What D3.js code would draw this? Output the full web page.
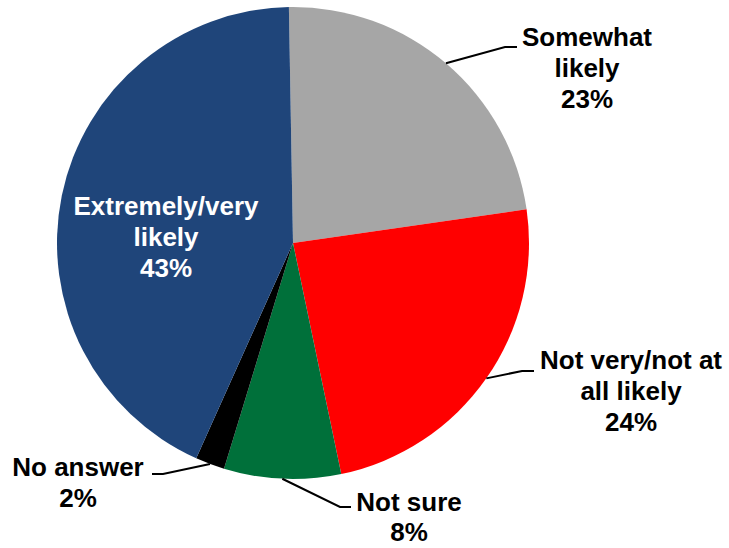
<!DOCTYPE html>
<html>
<head>
<meta charset="utf-8">
<script src="https://cdn.jsdelivr.net/npm/d3@7"></script>
<style>
  html, body { margin: 0; padding: 0; background: #fff; }
  svg { display: block; }
  text { font-family: "Liberation Sans", Arial, sans-serif; font-weight: bold; }
</style>
</head>
<body>
<svg id="chart" width="729" height="548"></svg>
<script>
// ---- data ----
const categories = ["Somewhat likely", "Not very/not at all likely", "Not sure", "No answer", "Extremely/very likely"];
const values = [23, 24, 8, 2, 43];
const labelLines = [["Somewhat", "likely"], ["Not very/not at", "all likely"], ["Not sure"], ["No answer"], ["Extremely/very", "likely"]];
const colors = ["#A6A6A6", "#FF0000", "#00703A", "#000000", "#1F457A"];

// ---- layout ----
const W = 729, H = 548;
const cx = 293, cy = 243, R = 236;
const startDeg = -1;
const fontSize = 26, lineH = 31;
// label anchor (x centre, first baseline) and leader elbow points [elbow, end]
const labelLayout = [
  { x: 587, y: 46, lh: 31, fill: "#000", leader: [[505, 47], [517, 47]] },
  { x: 631, y: 369, lh: 31, fill: "#000", leader: [[522, 371], [534, 371]] },
  { x: 409, y: 511, lh: 30, fill: "#000", leader: [[340, 507], [351, 507]] },
  { x: 78, y: 476, lh: 31, fill: "#000", leader: [[163, 474], [152, 474]] },
  { x: 166, y: 215, lh: 31, fill: "#fff", leader: null }
];

const svg = d3.select("#chart");
const g = svg.append("g").attr("transform", `translate(${cx},${cy})`);

const data = categories.map((c, i) => ({ category: c, value: values[i], lines: labelLines[i], color: colors[i], layout: labelLayout[i] }));

const pie = d3.pie()
  .value(d => d.value)
  .sort(null)
  .startAngle(startDeg * Math.PI / 180)
  .endAngle(startDeg * Math.PI / 180 + 2 * Math.PI);

const arc = d3.arc().innerRadius(0).outerRadius(R);
const arcs = pie(data);

g.selectAll("path.slice")
  .data(arcs)
  .join("path")
  .attr("class", "slice")
  .attr("d", arc)
  .attr("fill", d => d.data.color);

// leader lines
arcs.forEach(a => {
  const L = a.data.layout;
  if (!L.leader) return;
  const mid = (a.startAngle + a.endAngle) / 2;
  const sx = cx + R * Math.sin(mid);
  const sy = cy - R * Math.cos(mid);
  const pts = [[sx, sy]].concat(L.leader);
  svg.append("path")
    .attr("d", d3.line()(pts))
    .attr("fill", "none")
    .attr("stroke", "#000")
    .attr("stroke-width", 2);
});

// labels
arcs.forEach(a => {
  const L = a.data.layout;
  const pct = Math.round(a.data.value) + "%";
  const lines = a.data.lines.concat([pct]);
  const t = svg.append("text")
    .attr("text-anchor", "middle")
    .attr("font-size", fontSize)
    .attr("fill", L.fill);
  lines.forEach((ln, i) => {
    t.append("tspan").attr("x", L.x).attr("y", L.y + i * L.lh).text(ln);
  });
});
</script>
</body>
</html>
